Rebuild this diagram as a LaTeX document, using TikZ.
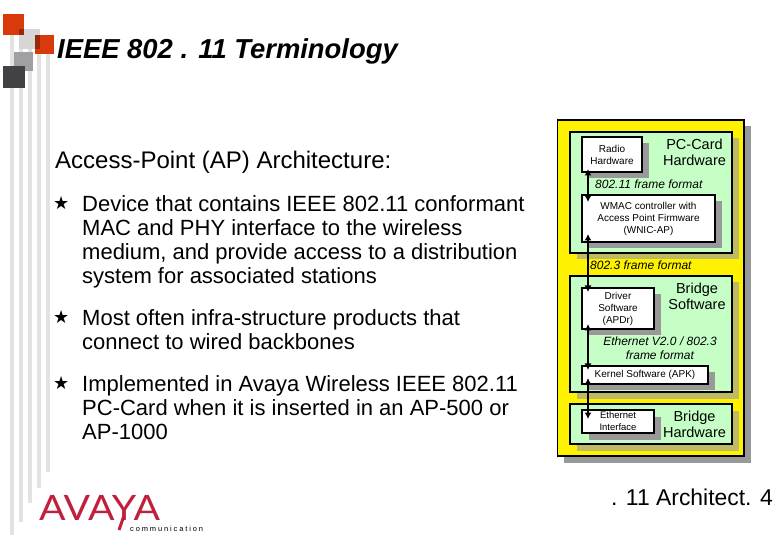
\documentclass[tikz,border=0pt]{standalone}
\usepackage{fontspec}
\setmainfont{Liberation Sans}
\newfontfamily\logofont{Lato}
\newfontfamily\commfont[LetterSpace=25]{Liberation Sans}
\newfontfamily\symfont{DejaVu Sans}
\usetikzlibrary{arrows.meta,shadows}
\definecolor{pgreen}{HTML}{C6FFC6}
\definecolor{stripe}{HTML}{E2E2E2}
\definecolor{sqred}{HTML}{D83A0C}
\definecolor{sqlight}{HTML}{D6D6D6}
\definecolor{sqmid}{HTML}{A0A0A4}
\definecolor{sqdark}{HTML}{404244}
\definecolor{avred}{HTML}{C0203C}
\tikzset{
  x=1pt,y=-1pt,
  panel/.style={draw=black,line width=1.6pt,anchor=north west,inner sep=0pt,outer sep=0pt},
  outerbox/.style={panel,fill=yellow,copy shadow={fill=black!40,draw=none,shadow xshift=6.5pt,shadow yshift=-6.5pt}},
  greenbox/.style={panel,fill=pgreen,copy shadow={fill=black!38!yellow!75!white,draw=none,shadow xshift=6.5pt,shadow yshift=-6.5pt}},
  whitebox/.style={panel,fill=white,align=center,font=\fontsize{10}{12}\selectfont,copy shadow={fill=black!40,draw=none,shadow xshift=6.5pt,shadow yshift=-6.5pt}},
  boxlabel/.style={align=center,inner sep=0pt,font=\fontsize{14.5}{16}\selectfont},
  framelabel/.style={align=center,inner sep=0pt,font=\fontsize{12}{14}\selectfont\itshape},
  para/.style={anchor=north west,align=left,inner sep=0pt,font=\fontsize{22}{24}\selectfont},
  bulletmark/.style={anchor=north west,inner sep=0pt,font=\fontsize{18}{24}\symfont},
  link/.style={{Latex[length=6.5pt,width=7pt]}-{Latex[length=6.5pt,width=7pt]},line width=1.6pt},
  stripebar/.style={fill=stripe,draw=none},
  square/.style={draw=none}
}
\begin{document}
\begin{tikzpicture}
\useasboundingbox[fill=white] (0,0) rectangle (780,540);
% stripes
\foreach \cx/\b in {12/535,21/522,30/503,39/488,48/472}
  \fill[stripebar] (\cx-2.3,35) rectangle (\cx+2.3,\b);
% squares
\fill[square,sqlight] (19,29) rectangle (40,49);
\fill[square,sqred] (3,14) rectangle (24,35);
\fill[square,sqred!70!black] (19,29) rectangle (24,35);
\fill[square,sqred] (35,35) rectangle (54,54);
\fill[square,sqred!70!black] (35,35) rectangle (40,49);
\fill[square,sqmid] (14,52) rectangle (33,71);
\fill[square,sqdark] (3,66) rectangle (25,88);
% title
\node[anchor=base west,inner sep=0pt,font=\fontsize{27.4}{30}\selectfont\bfseries\itshape] (title) at (57,59) {IEEE 802 . 11 Terminology};
\node[anchor=base west,inner sep=0pt,font=\fontsize{24}{26}\selectfont] (sub) at (55,169) {Access-Point (AP) Architecture:};
% bullets
\node[bulletmark] (b1) at (53,196) {★};
\node[para] (p1) at (82,195) {Device that contains IEEE 802.11 conformant\\MAC and PHY interface to the wireless\\medium, and provide access to a distribution\\system for associated stations};
\node[bulletmark] (b2) at (53,310) {★};
\node[para] (p2) at (82,309) {Most often infra-structure products that\\connect to wired backbones};
\node[bulletmark] (b3) at (53,376) {★};
\node[para] (p3) at (82,375) {Implemented in Avaya Wireless IEEE 802.11\\PC-Card when it is inserted in an AP-500 or\\AP-1000};
% panels
\node[outerbox,minimum width=186.5pt,minimum height=336pt] (outer) at (557.5,120) {};
\node[greenbox,minimum width=162pt,minimum height=121pt] (pc) at (570,132) {};
\node[greenbox,minimum width=162pt,minimum height=116pt] (bs) at (570,276) {};
\node[greenbox,minimum width=162pt,minimum height=40pt] (bh) at (570,404) {};
% white boxes
\node[whitebox,minimum width=60pt,minimum height=35pt] (radio) at (582,137) {Radio\\Hardware};
\node[whitebox,minimum width=133pt,minimum height=47pt] (wmac) at (582,195) {WMAC controller with\\Access Point Firmware\\(WNIC-AP)};
\node[whitebox,minimum width=72pt,minimum height=41pt] (driver) at (582,288) {Driver\\Software\\(APDr)};
\node[whitebox,minimum width=126pt,minimum height=18pt] (kernel) at (582,366) {Kernel Software (APK)};
\node[whitebox,minimum width=72pt,minimum height=23pt,font=\fontsize{9.5}{12}\selectfont] (eth) at (582,410) {Ethernet\\Interface};
% labels
\node[boxlabel] (l1) at (694.5,152) {PC-Card\\Hardware};
\node[boxlabel] (l2) at (697,296) {Bridge\\Software};
\node[boxlabel] (l3) at (694.5,424) {Bridge\\Hardware};
\node[framelabel,anchor=base west] (f1) at (595,189) {802.11 frame format};
\node[framelabel,anchor=base west] (f2) at (590,270) {802.3 frame format};
\node[framelabel] (f3) at (660,348) {Ethernet V2.0 / 802.3\\frame format};
% arrows
\coordinate (ax) at (588,0);
\draw[link,shorten <=-3pt,shorten >=-7pt] (ax |- radio.south) -- (ax |- wmac.north);
\draw[link,shorten <=-8pt,shorten >=-4pt] (ax |- wmac.south) -- (ax |- driver.north);
\draw[link,shorten <=-5pt,shorten >=-4pt] (ax |- driver.south) -- (ax |- kernel.north);
\draw[link,shorten <=-6pt,shorten >=-9pt] (ax |- kernel.south) -- (ax |- eth.north);
% footer
\node[anchor=base east,inner sep=0pt,font=\fontsize{22.9}{24}\selectfont] (foot) at (773,505) {. 11 Architect. 4};
\node[anchor=base west,inner sep=0pt,text=avred,font=\fontsize{35}{36}\logofont,xscale=1.12] (logo) at (39,520) {AVAYA};
\draw[avred,line width=3pt] (123.5,517) -- (119,530);
\node[anchor=base west,inner sep=0pt,font=\fontsize{7.5}{8}\commfont] (comm) at (130,531) {communication};
\end{tikzpicture}
\end{document}
